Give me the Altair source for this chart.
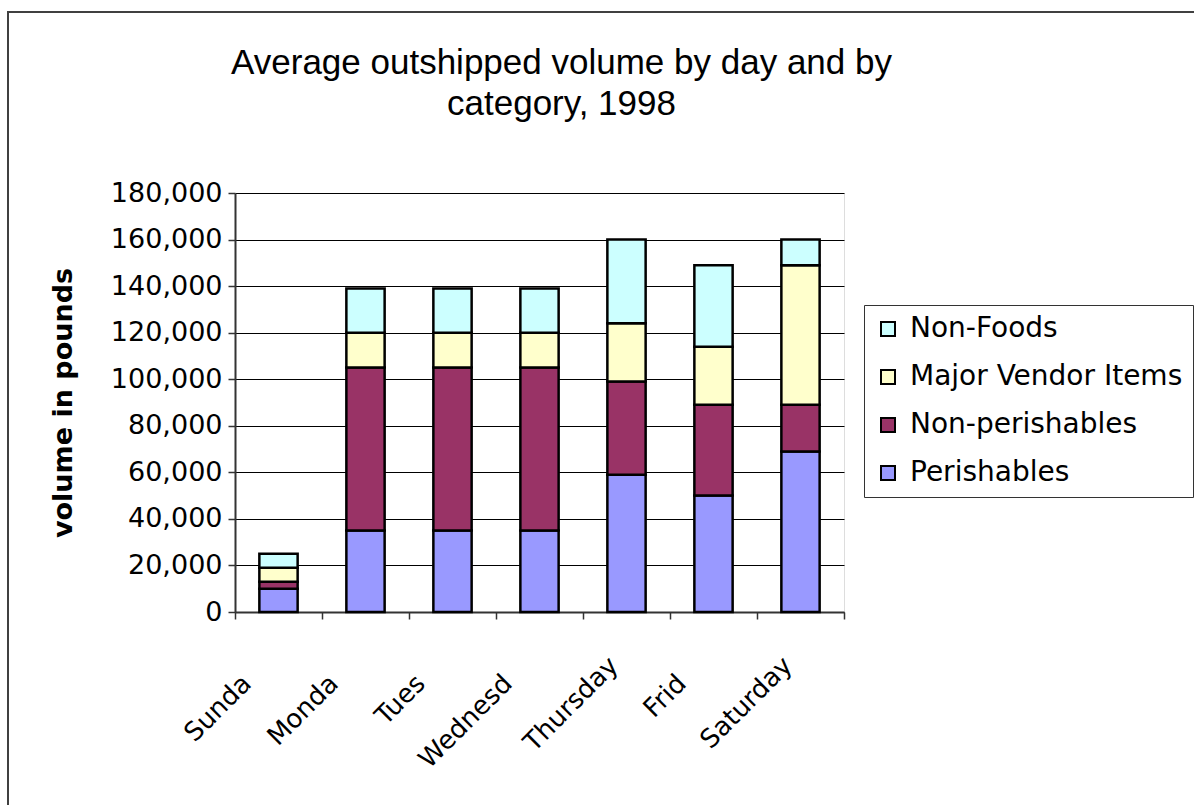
import altair as alt
import pandas as pd

# ---- data ----
days = ["Sunday", "Monday", "Tuesday", "Wednesday", "Thursday", "Friday", "Saturday"]
day_labels = ["Sunda", "Monda", "Tues", "Wednesd", "Thursday", "Frid", "Saturday"]
categories = ["Perishables", "Non-perishables", "Major Vendor Items", "Non-Foods"]
perishables = [10000, 35000, 35000, 35000, 59000, 50000, 69000]
non_perishables = [3000, 70000, 70000, 70000, 40000, 39000, 20000]
major_vendor = [6000, 15000, 15000, 15000, 25000, 25000, 60000]
non_foods = [6000, 19000, 19000, 19000, 36000, 35000, 11000]
colors = ["#9999FF", "#993366", "#FFFFCC", "#CCFFFF"]
y_ticks = [0, 20000, 40000, 60000, 80000, 100000, 120000, 140000, 160000, 180000]
title_lines = ["Average outshipped volume by day and by", "category, 1998"]

series = [perishables, non_perishables, major_vendor, non_foods]
rows = []
for i, d in enumerate(days):
    for j, cat in enumerate(categories):
        rows.append({"day": d, "category": cat, "volume": series[j][i], "stack_order": j})
df = pd.DataFrame(rows)

legend_order = categories[::-1]
legend_colors = colors[::-1]

quoted_days = ",".join(f"'{d}'" for d in days)
quoted_labels = ",".join(f"'{l}'" for l in day_labels)
label_expr = f"[{quoted_labels}][indexof([{quoted_days}], datum.value)]"
full_days = ",".join(f"'{d}'" for d, l in zip(days, day_labels) if d == l)
clipped_test = f"indexof([{full_days}], datum.value) < 0"

frame = alt.Chart(alt.Data(values=[{"k": 1}])).mark_rect(
    fill="transparent", stroke="#404040", strokeWidth=2
).encode(
    x=alt.value(-227), x2=alt.value(975), y=alt.value(-181), y2=alt.value(625)
)

bars = alt.Chart(df).mark_bar(
    stroke="black", strokeWidth=2.5, width={"band": 0.44}
).encode(
    x=alt.X(
        "day:N", sort=days,
        scale=alt.Scale(paddingInner=0, paddingOuter=0),
        axis=alt.Axis(
            title=None, labelAngle=-45, labelAlign="right", labelBaseline="middle",
            labelExpr=label_expr, labelFont="DejaVu Sans", labelFontSize=26,
            labelColor="black",
            labelOffset={"condition": {"test": clipped_test, "value": -32}, "value": -13},
            labelPadding={"condition": {"test": clipped_test, "value": 60}, "value": 42},
            tickBand="extent", tickSize=7, tickColor="#333", tickWidth=1.5,
            domainColor="#333", domainWidth=2, labelOverlap=False, grid=False,
        ),
    ),
    y=alt.Y(
        "volume:Q", stack="zero",
        scale=alt.Scale(domain=[0, 180000], nice=False, zero=True),
        axis=alt.Axis(
            values=y_ticks, format=",.0f", title="volume in pounds",
            titleFont="DejaVu Sans", titleFontSize=27, titleFontWeight="bold",
            titleColor="black", titleAngle=-90, titleAlign="center",
            titleBaseline="middle", titleX=-172, titleY=209.5,
            labelFont="DejaVu Sans", labelFontSize=27, labelColor="black",
            labelPadding=6, tickSize=7, tickColor="#333", tickWidth=1.5,
            domainColor="#333", domainWidth=2,
            grid=True, gridColor="black", gridWidth=1, labelOverlap=False,
        ),
    ),
    color=alt.Color(
        "category:N",
        scale=alt.Scale(domain=legend_order, range=legend_colors),
        legend=alt.Legend(
            title=None, orient="none", legendX=629, legendY=112,
            direction="vertical", symbolType="square", symbolSize=196,
            symbolStrokeColor="black", symbolStrokeWidth=2, symbolOpacity=1,
            labelFont="DejaVu Sans", labelFontSize=28, labelColor="black",
            labelLimit=500, labelOffset=8, strokeColor="#333", fillColor="white",
            padding=10, rowPadding=20,
        ),
    ),
    order=alt.Order("stack_order:Q", sort="ascending"),
)

chart = alt.layer(frame, bars).properties(
    width=609,
    height=419,
    autosize=alt.AutoSizeParams(type="none"),
    padding={"left": 235, "top": 193, "right": 350, "bottom": 193},
    title=alt.TitleParams(
        title_lines, font="Liberation Sans", fontSize=35, fontWeight="normal",
        color="black", anchor="middle", frame="group", dx=22, offset=-111,
        lineHeight=41,
    ),
).configure_view(
    fill="#C0C0C0", stroke="#808080", strokeWidth=2
).configure(background="white")

chart.save("out.html", embed_options={"renderer": "svg", "actions": False})
